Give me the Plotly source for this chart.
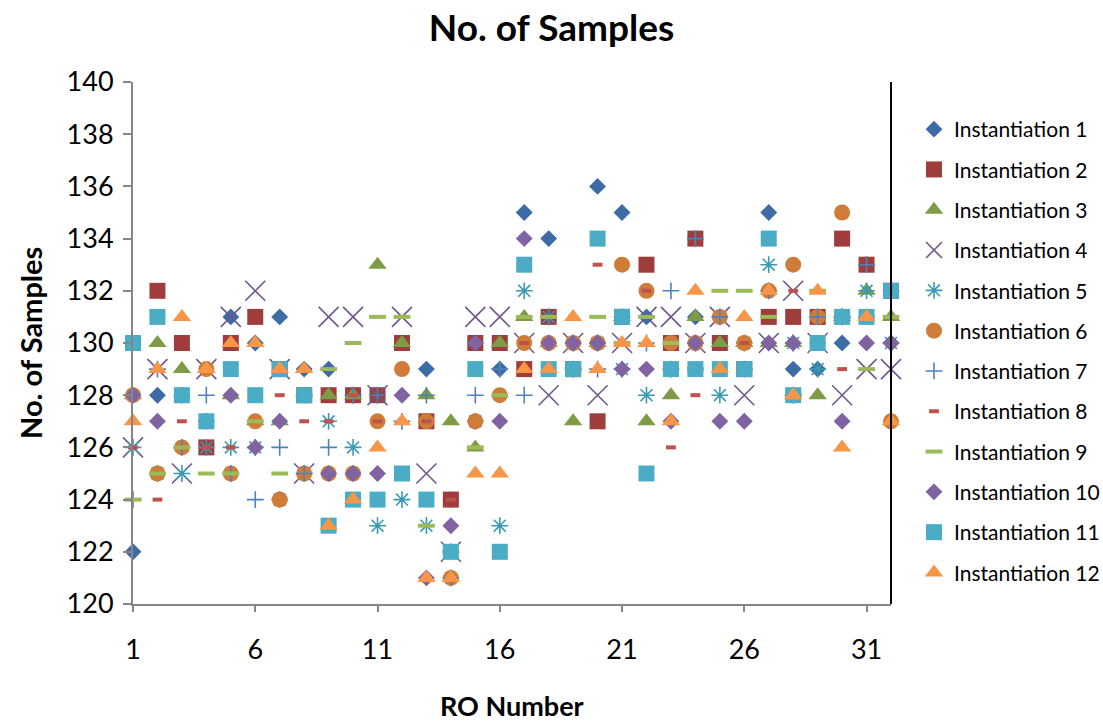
import plotly.graph_objects as go

ro_numbers = list(range(1, 33))

inst1 = [122, 128, 128, 127, 131, 130, 131, 129, 129, 128, 128, 130, 129, 124, 130, 129,
         135, 134, 129, 136, 135, 131, 129, 131, 130, 129, 135, 129, 129, 130, 131, 130]
inst2 = [130, 132, 130, 126, 130, 131, 129, 128, 128, 128, 128, 130, 127, 124, 130, 130,
         129, 131, 129, 127, 131, 133, 130, 134, 130, 129, 131, 131, 131, 134, 133, 132]
inst3 = [128, 130, 129, 129, 128, 127, 127, 129, 128, 128, 133, 130, 128, 127, 126, 130,
         131, 130, 127, 130, 131, 127, 128, 131, 130, 130, 130, 130, 128, 131, 132, 131]
inst4 = [126, 129, 125, 129, 131, 132, 129, 125, 131, 131, 128, 131, 125, 122, 131, 131,
         130, 128, 130, 128, 130, 131, 131, 130, 131, 128, 130, 132, 130, 128, 129, 129]
inst5 = [126, 125, 125, 126, 126, 126, 124, 125, 127, 126, 123, 124, 123, 122, 127, 123,
         132, 131, 130, 130, 129, 128, 129, 130, 128, 130, 133, 130, 129, 131, 132, 130]
inst6 = [128, 125, 126, 129, 125, 127, 124, 125, 125, 125, 127, 129, 127, 121, 127, 128,
         130, 130, 130, 130, 133, 132, 130, 130, 131, 130, 132, 133, 131, 135, 131, 127]
inst7 = [124, 129, 126, 128, 125, 124, 126, 125, 126, 128, 128, 127, 128, 121, 128, 129,
         128, 131, 129, 129, 131, 130, 132, 134, 131, 129, 132, 128, 131, 131, 133, 132]
inst8 = [126, 124, 127, 126, 126, 126, 128, 127, 127, 128, 127, 127, 127, 124, 130, 125,
         130, 131, 131, 133, 131, 132, 126, 128, 127, 130, 132, 132, 130, 129, 131, 132]
inst9 = [124, 125, 126, 125, 125, 127, 125, 128, 129, 130, 131, 131, 123, 122, 126, 128,
         131, 131, 129, 131, 130, 131, 130, 129, 132, 132, 131, 128, 132, 131, 129, 131]
inst10 = [128, 127, 128, 127, 128, 126, 127, 128, 125, 125, 125, 128, 121, 123, 130, 127,
          134, 130, 130, 130, 129, 129, 127, 130, 127, 127, 130, 130, 130, 127, 130, 130]
inst11 = [130, 131, 128, 127, 129, 128, 129, 128, 123, 124, 124, 125, 124, 122, 129, 122,
          133, 129, 129, 134, 131, 125, 129, 129, 129, 129, 134, 128, 130, 131, 131, 132]
inst12 = [127, 129, 131, 129, 130, 130, 129, 129, 123, 124, 126, 127, 121, 121, 125, 125,
          129, 129, 131, 129, 130, 130, 127, 132, 129, 131, 132, 128, 132, 126, 131, 127]

series_names = [f"Instantiation {i}" for i in range(1, 13)]
series_values = [inst1, inst2, inst3, inst4, inst5, inst6,
                 inst7, inst8, inst9, inst10, inst11, inst12]

# marker style per series: (symbol, size, colour, outline width)
styles = [
    ("diamond", 13, "#3D6BA5", 0),
    ("square", 16, "#9E3D3B", 0),
    ("triangle-up", 16, "#7E9C45", 0),
    ("x-thin-open", 20, "#6F568F", 1.6),
    ("asterisk-open", 14, "#3A9AB3", 1.6),
    ("circle", 16, "#CE7C38", 0),
    ("cross-thin-open", 12, "#4F81BD", 1.6),
    ("line-ew-open", 7, "#C0504D", 4),
    ("line-ew-open", 12, "#9BBB59", 4),
    ("diamond", 13, "#8064A2", 0),
    ("square", 16, "#4BACC6", 0),
    ("triangle-up", 16, "#F79646", 0),
]

FONT = "Lato, 'Open Sans', sans-serif"

fig = go.Figure()
for name, vals, (sym, size, col, lw) in zip(series_names, series_values, styles):
    fig.add_trace(go.Scatter(
        x=ro_numbers, y=vals, mode="markers", name=name,
        legendgroup=name,
        cliponaxis=False,
        marker=dict(symbol=sym, size=size, color=col,
                    line=dict(width=lw, color=col)),
    ))

axis_grey = "#868686"
PLOT_W, PLOT_H = 758, 522

fig.update_layout(
    width=1103, height=721,
    paper_bgcolor="white", plot_bgcolor="white",
    margin=dict(l=133, r=212, t=82, b=117, autoexpand=False),
    title=dict(text="<b>No. of Samples</b>", x=0.5, xanchor="center",
               y=1 - 28 / 721, yanchor="middle",
               font=dict(family=FONT, size=37, color="black")),
    font=dict(family=FONT, color="black"),
    showlegend=True,
    legend=dict(x=1.0 + 23 / PLOT_W, xanchor="left", y=1 - 27 / PLOT_H, yanchor="top",
                font=dict(family=FONT, size=21, color="black"),
                tracegroupgap=10, itemwidth=30, bgcolor="rgba(0,0,0,0)"),
    xaxis=dict(range=[1, 32], tickmode="array", tickvals=[1, 6, 11, 16, 21, 26, 31],
               showgrid=False, zeroline=False, showline=True, linecolor=axis_grey,
               linewidth=2, ticks="outside", ticklen=6, tickwidth=2, tickcolor=axis_grey,
               tickfont=dict(family=FONT, size=27, color="black"),
               ticklabelstandoff=15),
    yaxis=dict(range=[120, 140], dtick=2, showgrid=False, zeroline=False,
               showline=True, linecolor=axis_grey, linewidth=2,
               ticks="outside", ticklen=8, tickwidth=2, tickcolor=axis_grey,
               tickfont=dict(family=FONT, size=27, color="black"),
               ticklabelstandoff=4),
    annotations=[
        dict(text="<b>No. of Samples</b>", xref="paper", yref="paper",
             x=-103 / PLOT_W, y=0.5, textangle=-90, showarrow=False,
             xanchor="center", yanchor="middle",
             font=dict(family=FONT, size=29, color="black")),
        dict(text="<b>RO Number</b>", xref="paper", yref="paper",
             x=(512 - 133) / PLOT_W, y=-(705 - 604) / PLOT_H, showarrow=False,
             xanchor="center", yanchor="middle",
             font=dict(family=FONT, size=27, color="black")),
    ],
    shapes=[dict(type="line", xref="paper", yref="paper", x0=1, x1=1, y0=0, y1=1,
                 line=dict(color="black", width=2))],
)

fig.write_html("out.html")
